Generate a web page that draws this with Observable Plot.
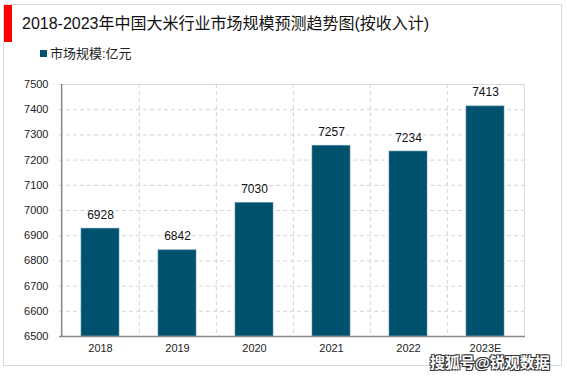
<!DOCTYPE html>
<html><head><meta charset="utf-8">
<script src="https://cdn.jsdelivr.net/npm/d3@7"></script>
<script src="https://cdn.jsdelivr.net/npm/@observablehq/plot@0.6"></script>
<style>
html,body{margin:0;padding:0;background:#fff;}
#wrap{position:relative;width:567px;height:378px;overflow:hidden;font-family:"Liberation Sans","Noto Sans CJK SC",Arial,sans-serif;}
#frame{position:absolute;left:3px;top:4px;width:559px;height:362px;border:1px solid #d9d9d9;box-sizing:border-box;}
#redbar{position:absolute;left:4px;top:5px;width:8px;height:37px;background:#ff0000;}
#title{position:absolute;left:22px;top:10px;font-size:16px;color:#111;white-space:nowrap;}
#legend{position:absolute;left:40px;top:43px;font-size:13px;color:#222;white-space:nowrap;z-index:2;}
#legend span.sw{display:inline-block;width:7px;height:7px;background:#00516d;margin-right:3px;vertical-align:1px;}
#chart{position:absolute;left:0;top:60px;z-index:1;}
#wm{position:absolute;left:430px;top:351px;font-size:15px;font-weight:bold;color:#fff;white-space:nowrap;z-index:3;
  text-shadow:-1px -1px 0 #333,1px -1px 0 #333,-1px 1px 0 #333,1px 1px 0 #333;}
</style></head>
<body>
<div id="wrap">
  <div id="frame"></div>
  <div id="redbar"></div>
  <div id="title">2018-2023年中国大米行业市场规模预测趋势图(按收入计)</div>
  <div id="legend"><span class="sw"></span>市场规模:亿元</div>
  <div id="chart"></div>
  <div id="wm">搜狐号@锐观数据</div>
</div>
<script>
const years = ["2018","2019","2020","2021","2022","2023E"];
const values = [6928, 6842, 7030, 7257, 7234, 7413];
const yTicks = [6500,6600,6700,6800,6900,7000,7100,7200,7300,7400,7500];
const gridTicks = [6600,6700,6800,6900,7000,7100,7200,7300,7400];

const data = years.map((y,i)=>({year:y, value:values[i]}));
const W = 567, H = 318, ML = 59, MR = 42, MT = 24, MB = 42;
const half = (W - ML - MR) / years.length / 2;

const chart = Plot.plot({
  width: W, height: H,
  marginLeft: ML, marginRight: MR, marginTop: MT, marginBottom: MB,
  style: {fontFamily: '"Liberation Sans", Arial, sans-serif', fontSize: "11px", color: "#222", background: "transparent"},
  x: {domain: years, paddingInner: 0.51, paddingOuter: 0.255, label: null},
  y: {domain: [6500, 7500], label: null},
  marks: [
    Plot.ruleY(gridTicks, {stroke: "#d4d4d4", strokeDasharray: "4,3"}),
    Plot.ruleX(years.slice(0, -1), {x: d => d, dx: half, stroke: "#d4d4d4", strokeDasharray: "4,3"}),
    Plot.ruleY([7500], {stroke: "#d9d9d9"}),
    Plot.ruleX(years.slice(-1), {x: d => d, dx: half, stroke: "#d9d9d9"}),
    Plot.barY(data, {x: "year", y1: 6500, y2: "value", fill: "#00516d", stroke: "#5a93a8", strokeWidth: 0.6}),
    Plot.text(data, {x: "year", y: "value", text: d => String(d.value), dy: -10, fontSize: 12, fill: "#111", lineAnchor: "bottom"}),
    Plot.ruleY([6500], {stroke: "#888", strokeWidth: 1.5}),
    Plot.ruleX(years.slice(0, 1), {x: d => d, dx: -half, stroke: "#888", strokeWidth: 1.5}),
    Plot.axisY({ticks: yTicks, tickSize: 0, tickPadding: 11, tickFormat: d => String(d), label: null}),
    Plot.axisX({tickSize: 0, tickPadding: 8, label: null})
  ]
});
document.getElementById("chart").appendChild(chart);
</script>
</body></html>
